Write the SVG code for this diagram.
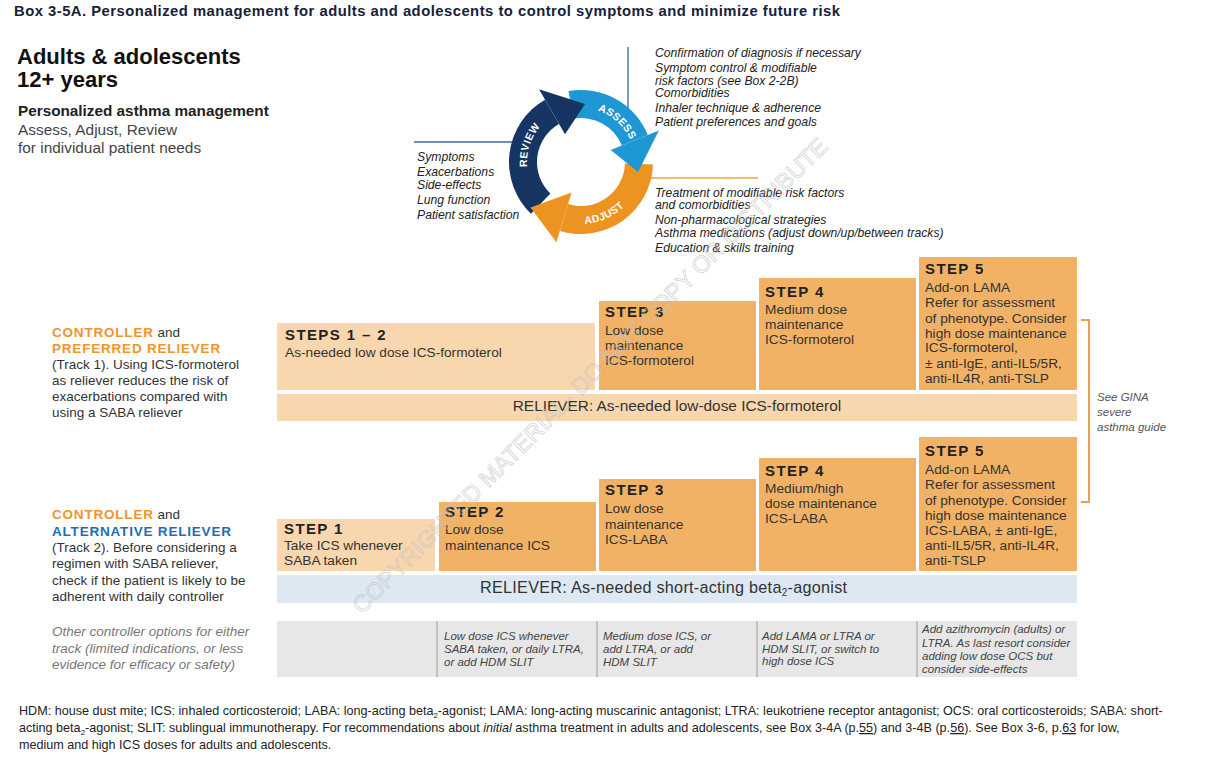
<svg xmlns="http://www.w3.org/2000/svg" width="1216" height="772" viewBox="0 0 1216 772">
<style>
text{font-family:"Liberation Sans",Arial,sans-serif;fill:#333}
.title{font-size:14.8px;font-weight:bold;fill:#17213a}
.big{font-size:22px;font-weight:bold;fill:#111}
.sub{font-size:15.3px;font-weight:bold;fill:#222}
.lead{font-size:15.4px;fill:#444}
.note{font-size:12.2px;font-style:italic;fill:#222}
.lab{font-size:13.5px;fill:#333}
.or{font-weight:bold;fill:#f0952e;letter-spacing:0.8px}
.bl{font-weight:bold;fill:#1f6db5;letter-spacing:0.8px}
.oth{font-size:13.5px;font-style:italic;fill:#777}
.hd{font-size:15px;font-weight:bold;fill:#222;letter-spacing:1.4px}
.bx{font-size:13.7px;fill:#333}
.rel{font-size:15.4px;fill:#333}
.cell{font-size:11.5px;font-style:italic;fill:#444}
.arc{font-size:10.5px;font-weight:bold;fill:#fff;letter-spacing:0.4px}
.foot{font-size:12.6px;fill:#222}
.lt{fill:#f9d7ae}
.dk{fill:#f2b266}
.line{fill:none;stroke-width:1.3}
</style>
<defs>
<path id="pRev" d="M530.3,180.5 A54,54 0 0 1 550.8,117.2"/>
<path id="pAss" d="M590.4,108.8 A54,54 0 0 1 632.9,147.1"/>
<path id="pAdj" d="M570.2,223.1 A62,62 0 0 0 633.6,194.9"/>
</defs>

<g id="title"><text class="title" x="14" y="16" textLength="826" lengthAdjust="spacing">Box 3-5A. Personalized management for adults and adolescents to control symptoms and minimize future risk</text></g>

<g id="heading">
<text class="big" x="17" y="64">Adults &amp; adolescents</text>
<text class="big" x="17" y="87">12+ years</text>
<text class="sub" x="18" y="116">Personalized asthma management</text>
<text class="lead" x="18" y="135">Assess, Adjust, Review</text>
<text class="lead" x="18" y="153">for individual patient needs</text>
</g>

<g id="connectors">
<path class="line" stroke="#3a6aa8" d="M628,47 V140"/>
<path class="line" stroke="#3a6aa8" d="M414,142 H512"/>
<path class="line" stroke="#f0a040" d="M638,178 H758"/>
<path fill="none" stroke="#f0a04b" stroke-width="2" d="M1081,320 H1089 V502 H1081"/>
</g>

<g id="cycle">
<g id="review"><path fill="#163563" d="M531.0,213.8 A72,72 0 0 1 545.0,99.65 L559.0,123.9 A44,44 0 0 0 550.4,193.6 Z"/></g>
<g id="assess"><path fill="#1f97d4" d="M568.5,91.1 A72,72 0 0 1 647.8,135.0 L621.8,145.5 A44,44 0 0 0 573.4,118.7 Z"/></g>
<g id="adjust"><path fill="#ec9322" d="M653.0,164.5 A72,72 0 0 1 560.0,230.9 L568.1,204.1 A44,44 0 0 0 625.0,163.5 Z"/></g>
<path fill="#163563" d="M539.0,89.25 L565.0,134.3 L585.0,104.1 Z"/>
<path fill="#1f97d4" d="M658.9,130.5 L610.7,150.0 L638.1,172.1 Z"/>
<path fill="#ec9322" d="M556.4,242.3 L571.6,192.6 L530.5,207.5 Z"/>
<text class="arc"><textPath href="#pRev" startOffset="50%" text-anchor="middle">REVIEW</textPath></text>
<text class="arc"><textPath href="#pAss" startOffset="50%" text-anchor="middle">ASSESS</textPath></text>
<text class="arc"><textPath href="#pAdj" startOffset="50%" text-anchor="middle">ADJUST</textPath></text>
</g>

<g id="assess-notes">
<text class="note" x="655" y="57">Confirmation of diagnosis if necessary</text>
<text class="note" x="655" y="71.5">Symptom control &amp; modifiable</text>
<text class="note" x="655" y="84.5">risk factors (see Box 2-2B)</text>
<text class="note" x="655" y="97">Comorbidities</text>
<text class="note" x="655" y="111.5">Inhaler technique &amp; adherence</text>
<text class="note" x="655" y="126">Patient preferences and goals</text>
</g>
<g id="review-notes">
<text class="note" x="417" y="161">Symptoms</text>
<text class="note" x="417" y="175.5">Exacerbations</text>
<text class="note" x="417" y="189">Side-effects</text>
<text class="note" x="417" y="204">Lung function</text>
<text class="note" x="417" y="218.5">Patient satisfaction</text>
</g>
<g id="adjust-notes">
<text class="note" x="655" y="197">Treatment of modifiable risk factors</text>
<text class="note" x="655" y="208.5">and comorbidities</text>
<text class="note" x="655" y="224">Non-pharmacological strategies</text>
<text class="note" x="655" y="237">Asthma medications (adjust down/up/between tracks)</text>
<text class="note" x="655" y="252">Education &amp; skills training</text>
</g>

<g id="track1-label">
<text class="lab" x="52" y="336.5"><tspan class="or">CONTROLLER</tspan> and</text>
<text class="lab or" x="52" y="353">PREFERRED RELIEVER</text>
<text class="lab" x="52" y="369">(Track 1). Using ICS-formoterol</text>
<text class="lab" x="52" y="385">as reliever reduces the risk of</text>
<text class="lab" x="52" y="401">exacerbations compared with</text>
<text class="lab" x="52" y="417">using a SABA reliever</text>
</g>

<g id="t1-steps12">
<rect class="lt" x="277" y="323" width="318" height="67"/>
<text class="hd" x="285" y="340">STEPS 1 – 2</text>
<text class="bx" x="285" y="357">As-needed low dose ICS-formoterol</text>
</g>
<g id="t1-step3">
<rect class="dk" x="599" y="301" width="157" height="89"/>
<text class="hd" x="605" y="317">STEP 3</text>
<text class="bx" x="605" y="334.5">Low dose</text>
<text class="bx" x="605" y="350">maintenance</text>
<text class="bx" x="605" y="365">ICS-formoterol</text>
</g>
<g id="t1-step4">
<rect class="dk" x="759" y="278" width="157" height="112"/>
<text class="hd" x="765" y="297">STEP 4</text>
<text class="bx" x="765" y="314">Medium dose</text>
<text class="bx" x="765" y="329">maintenance</text>
<text class="bx" x="765" y="344">ICS-formoterol</text>
</g>
<g id="t1-step5">
<rect class="dk" x="919" y="257" width="158" height="133"/>
<text class="hd" x="925" y="274">STEP 5</text>
<text class="bx" x="925" y="292">Add-on LAMA</text>
<text class="bx" x="925" y="307">Refer for assessment</text>
<text class="bx" x="925" y="323">of phenotype. Consider</text>
<text class="bx" x="925" y="338">high dose maintenance</text>
<text class="bx" x="925" y="352">ICS-formoterol,</text>
<text class="bx" x="925" y="368">± anti-IgE, anti-IL5/5R,</text>
<text class="bx" x="925" y="383">anti-IL4R, anti-TSLP</text>
</g>
<g id="t1-reliever">
<rect class="lt" x="277" y="394" width="800" height="27"/>
<text class="rel" x="677" y="411" text-anchor="middle">RELIEVER: As-needed low-dose ICS-formoterol</text>
</g>

<g id="see-gina">
<text class="cell" x="1097" y="401" style="fill:#555">See GINA</text>
<text class="cell" x="1097" y="416" style="fill:#555">severe</text>
<text class="cell" x="1097" y="431" style="fill:#555">asthma guide</text>
</g>

<g id="track2-label">
<text class="lab" x="52" y="519"><tspan class="or">CONTROLLER</tspan> and</text>
<text class="lab bl" x="52" y="535.5">ALTERNATIVE RELIEVER</text>
<text class="lab" x="52" y="552">(Track 2). Before considering a</text>
<text class="lab" x="52" y="568">regimen with SABA reliever,</text>
<text class="lab" x="52" y="584.5">check if the patient is likely to be</text>
<text class="lab" x="52" y="601">adherent with daily controller</text>
</g>

<g id="t2-step1">
<rect class="lt" x="277" y="519" width="158" height="52"/>
<text class="hd" x="284" y="534">STEP 1</text>
<text class="bx" x="284" y="550">Take ICS whenever</text>
<text class="bx" x="284" y="564.5">SABA taken</text>
</g>
<g id="t2-step2">
<rect class="dk" x="439" y="502" width="157" height="69"/>
<text class="hd" x="445" y="517">STEP 2</text>
<text class="bx" x="445" y="534">Low dose</text>
<text class="bx" x="445" y="550">maintenance ICS</text>
</g>
<g id="t2-step3">
<rect class="dk" x="599" y="479" width="157" height="92"/>
<text class="hd" x="605" y="495">STEP 3</text>
<text class="bx" x="605" y="513">Low dose</text>
<text class="bx" x="605" y="529">maintenance</text>
<text class="bx" x="605" y="544">ICS-LABA</text>
</g>
<g id="t2-step4">
<rect class="dk" x="759" y="458" width="157" height="113"/>
<text class="hd" x="765" y="476">STEP 4</text>
<text class="bx" x="765" y="493">Medium/high</text>
<text class="bx" x="765" y="508">dose maintenance</text>
<text class="bx" x="765" y="523">ICS-LABA</text>
</g>
<g id="t2-step5">
<rect class="dk" x="919" y="437" width="158" height="134"/>
<text class="hd" x="925" y="456">STEP 5</text>
<text class="bx" x="925" y="474">Add-on LAMA</text>
<text class="bx" x="925" y="489">Refer for assessment</text>
<text class="bx" x="925" y="505">of phenotype. Consider</text>
<text class="bx" x="925" y="520">high dose maintenance</text>
<text class="bx" x="925" y="535">ICS-LABA, ± anti-IgE,</text>
<text class="bx" x="925" y="550">anti-IL5/5R, anti-IL4R,</text>
<text class="bx" x="925" y="565">anti-TSLP</text>
</g>
<g id="t2-reliever">
<rect x="277" y="575" width="800" height="28" fill="#dde8f3"/>
<text class="rel" x="480" y="593" style="font-size:16.2px" textLength="367" lengthAdjust="spacing">RELIEVER: As-needed short-acting beta<tspan font-size="10" dy="3">2</tspan><tspan dy="-3">-agonist</tspan></text>
</g>

<g id="other-options">
<text class="oth" x="52" y="636">Other controller options for either</text>
<text class="oth" x="52" y="652.5">track (limited indications, or less</text>
<text class="oth" x="52" y="669">evidence for efficacy or safety)</text>
<rect x="277" y="621" width="800" height="56" fill="#e7e7e7"/>
<path d="M437,621 V677 M597,621 V677 M757,621 V677 M917,621 V677" stroke="#a5a5a5" stroke-width="1.2"/>
<text class="cell" x="444" y="639.5">Low dose ICS whenever</text>
<text class="cell" x="444" y="652.5">SABA taken, or daily LTRA,</text>
<text class="cell" x="444" y="666">or add HDM SLIT</text>
<text class="cell" x="603" y="639.5">Medium dose ICS, or</text>
<text class="cell" x="603" y="652.5">add LTRA, or add</text>
<text class="cell" x="603" y="666">HDM SLIT</text>
<text class="cell" x="762" y="639.5">Add LAMA or LTRA or</text>
<text class="cell" x="762" y="652.5">HDM SLIT, or switch to</text>
<text class="cell" x="762" y="665">high dose ICS</text>
<text class="cell" x="922" y="633">Add azithromycin (adults) or</text>
<text class="cell" x="922" y="647">LTRA. As last resort consider</text>
<text class="cell" x="922" y="660">adding low dose OCS but</text>
<text class="cell" x="922" y="672.5">consider side-effects</text>
</g>

<g id="footer">
<text class="foot" x="19" y="715">HDM: house dust mite; ICS: inhaled corticosteroid; LABA: long-acting beta<tspan font-size="8" dy="3">2</tspan><tspan dy="-3">-agonist; LAMA: long-acting muscarinic antagonist; LTRA: leukotriene receptor antagonist; OCS: oral corticosteroids; SABA: short-</tspan></text>
<text class="foot" x="19" y="732">acting beta<tspan font-size="8" dy="3">2</tspan><tspan dy="-3">-agonist; SLIT: sublingual immunotherapy. For recommendations about </tspan><tspan font-style="italic">initial</tspan> asthma treatment in adults and adolescents, see Box 3-4A (p.<tspan text-decoration="underline">55</tspan>) and 3-4B (p.<tspan text-decoration="underline">56</tspan>). See Box 3-6, p.<tspan text-decoration="underline">63</tspan> for low,</text>
<text class="foot" x="19" y="749">medium and high ICS doses for adults and adolescents.</text>
</g>

<g id="watermark" transform="translate(362,615) rotate(-45)">
<text x="0" y="0" style="font-size:23.5px;fill:none;stroke:#c4c4c4;stroke-width:0.7;opacity:0.8">COPYRIGHTED MATERIAL- DO NOT COPY OR DISTRIBUTE</text>
</g>
</svg>
